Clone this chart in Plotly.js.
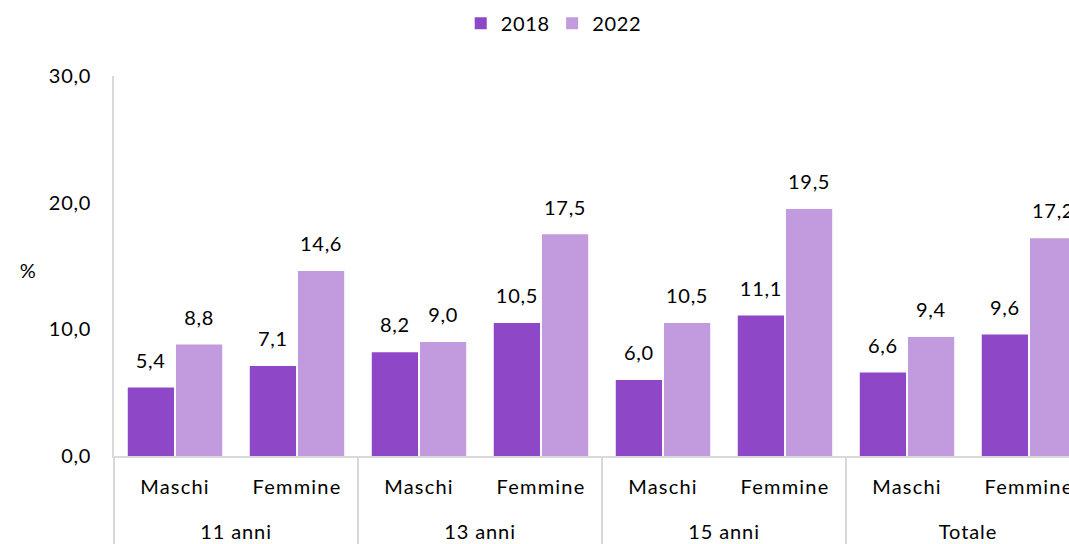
<!DOCTYPE html>
<html>
<head>
<meta charset="utf-8">
<script src="https://cdn.plot.ly/plotly-3.0.1.min.js"></script>
<style>
html,body{margin:0;padding:0;overflow:hidden;background:#fff;}
#chart{width:1100px;height:570px;}
#chart svg text{letter-spacing:0.7px;}
#chart svg .xtick text{letter-spacing:1.2px;}
#chart svg .xtick2 text{letter-spacing:0.9px;}
#chart svg g.xtick2{transform:translateY(5px);}
</style>
</head>
<body>
<div id="chart"></div>
<script>
const groups = ['11 anni','11 anni','13 anni','13 anni','15 anni','15 anni','Totale','Totale'];
const sexes = ['Maschi','Femmine','Maschi','Femmine','Maschi','Femmine','Maschi','Femmine'];
const v2018 = [5.4, 7.1, 8.2, 10.5, 6.0, 11.1, 6.6, 9.6];
const v2022 = [8.8, 14.6, 9.0, 17.5, 10.5, 19.5, 9.4, 17.2];
const seriesNames = ['2018','2022'];
const colors = ['#8E47C7','#C29ADE'];
const yTicks = [0, 10, 20, 30];

const FONT = 'Lato, "Open Sans", sans-serif';
const FS = 20;
const labelPad = 1.0;
const fmt = v => v.toFixed(1).replace('.', ',');

// blank lines around the outer category labels: push them down and lengthen the dividers
const x = [groups.map(g => '\u00a0<br>' + g + '<br>\u00a0'), sexes];
const traces = [];
[v2018, v2022].forEach((vals, i) => {
  traces.push({
    type: 'bar', name: seriesNames[i], x: x, y: vals,
    offsetgroup: String(i),
    marker: {color: colors[i]},
    hoverinfo: 'none'
  });
});
[v2018, v2022].forEach((vals, i) => {
  traces.push({
    type: 'bar', name: seriesNames[i] + ' label', x: x,
    y: vals.map(() => labelPad), base: vals,
    offsetgroup: String(i), showlegend: false,
    marker: {color: 'rgba(0,0,0,0)'},
    text: vals.map(fmt), textposition: 'outside', cliponaxis: false,
    textfont: {family: FONT, size: FS, color: '#000'},
    hoverinfo: 'none'
  });
});

const layout = {
  width: 1100, height: 570,
  margin: {l: 114, r: 10, t: 76, b: 114, autoexpand: false},
  barmode: 'group', bargap: 0.21, bargroupgap: 0.04,
  paper_bgcolor: '#fff', plot_bgcolor: '#fff',
  font: {family: FONT, size: FS, color: '#000'},
  showlegend: true,
  legend: {orientation: 'h', x: 0.449, xanchor: 'center', y: 1.139, yanchor: 'middle',
           font: {family: FONT, size: FS, color: '#000'}, traceorder: 'normal'},
  xaxis: {type: 'multicategory', showline: true, linecolor: '#d9d9d9', linewidth: 2,
          showdividers: true, dividercolor: '#d9d9d9', dividerwidth: 2, automargin: false,
          ticks: '', ticklabelstandoff: 12, tickfont: {family: FONT, size: FS, color: '#000'}},
  yaxis: {range: [0, 30], tickvals: yTicks, ticktext: yTicks.map(fmt), automargin: false,
          showgrid: false, zeroline: false, showline: true, linecolor: '#d9d9d9', linewidth: 2,
          ticks: '', ticklabelstandoff: 17, tickfont: {family: FONT, size: FS, color: '#000'}},
  annotations: [{text: '%', xref: 'paper', yref: 'paper', x: -0.088, y: 0.49, showarrow: false,
                 xanchor: 'center', yanchor: 'middle', font: {family: FONT, size: FS, color: '#000'}}]
};

Plotly.newPlot('chart', traces, layout, {displayModeBar: false, staticPlot: true});
</script>
</body>
</html>
